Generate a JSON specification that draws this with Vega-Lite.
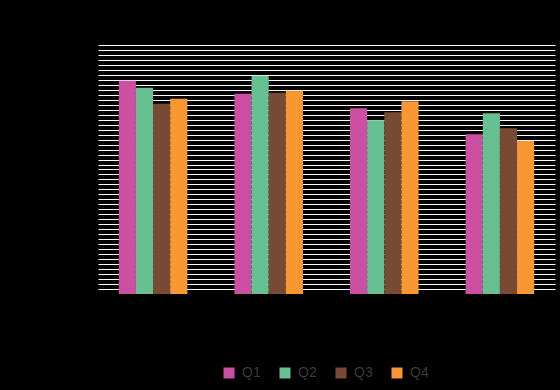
{
  "$schema": "https://vega.github.io/schema/vega-lite/v6.json",
  "width": 457,
  "height": 254,
  "autosize": {"type": "none"},
  "padding": {"left": 98, "top": 40, "right": 5, "bottom": 96},
  "background": "#000000",
  "data": {
    "values": [
      {"group": "Group 1", "quarter": "Q1", "value": 42.8},
      {"group": "Group 1", "quarter": "Q2", "value": 41.4},
      {"group": "Group 1", "quarter": "Q3", "value": 38.2},
      {"group": "Group 1", "quarter": "Q4", "value": 39.2},
      {"group": "Group 2", "quarter": "Q1", "value": 40.2},
      {"group": "Group 2", "quarter": "Q2", "value": 43.8},
      {"group": "Group 2", "quarter": "Q3", "value": 40.4},
      {"group": "Group 2", "quarter": "Q4", "value": 40.8},
      {"group": "Group 3", "quarter": "Q1", "value": 37.3},
      {"group": "Group 3", "quarter": "Q2", "value": 34.9},
      {"group": "Group 3", "quarter": "Q3", "value": 36.5},
      {"group": "Group 3", "quarter": "Q4", "value": 38.7},
      {"group": "Group 4", "quarter": "Q1", "value": 32.1},
      {"group": "Group 4", "quarter": "Q2", "value": 36.3},
      {"group": "Group 4", "quarter": "Q3", "value": 33.3},
      {"group": "Group 4", "quarter": "Q4", "value": 30.7}
    ]
  },
  "mark": {"type": "bar"},
  "encoding": {
    "x": {
      "field": "group",
      "type": "nominal",
      "sort": null,
      "scale": {"paddingInner": 0.407, "paddingOuter": 0.18},
      "axis": {"labels": false, "ticks": false, "domain": false, "title": null, "grid": false}
    },
    "xOffset": {"field": "quarter", "type": "nominal", "sort": ["Q1", "Q2", "Q3", "Q4"]},
    "y": {
      "field": "value",
      "type": "quantitative",
      "scale": {"domain": [0, 51], "nice": false},
      "axis": {
        "values": [1,2,3,4,5,6,7,8,9,10,11,12,13,14,15,16,17,18,19,20,21,22,23,24,25,26,27,28,29,30,31,32,33,34,35,36,37,38,39,40,41,42,43,44,45,46,47,48,49,50],
        "labels": false,
        "ticks": false,
        "domain": false,
        "title": null,
        "grid": true,
        "gridColor": "#ffffff",
        "gridWidth": 1,
        "gridOpacity": 1
      }
    },
    "color": {
      "field": "quarter",
      "type": "nominal",
      "scale": {"domain": ["Q1", "Q2", "Q3", "Q4"], "range": ["#cc4fa2", "#67c092", "#784a33", "#f99733"]},
      "legend": {
        "orient": "none",
        "legendX": 124,
        "legendY": 326,
        "direction": "horizontal",
        "title": null,
        "symbolType": "square",
        "symbolSize": 121,
        "symbolStrokeWidth": 0,
        "symbolOpacity": 1,
        "labelFontSize": 14,
        "labelFont": "Liberation Sans",
        "labelColor": "#3a3a3a",
        "labelOffset": 6,
        "columnPadding": 17
      }
    }
  },
  "config": {"view": {"stroke": null}}
}
